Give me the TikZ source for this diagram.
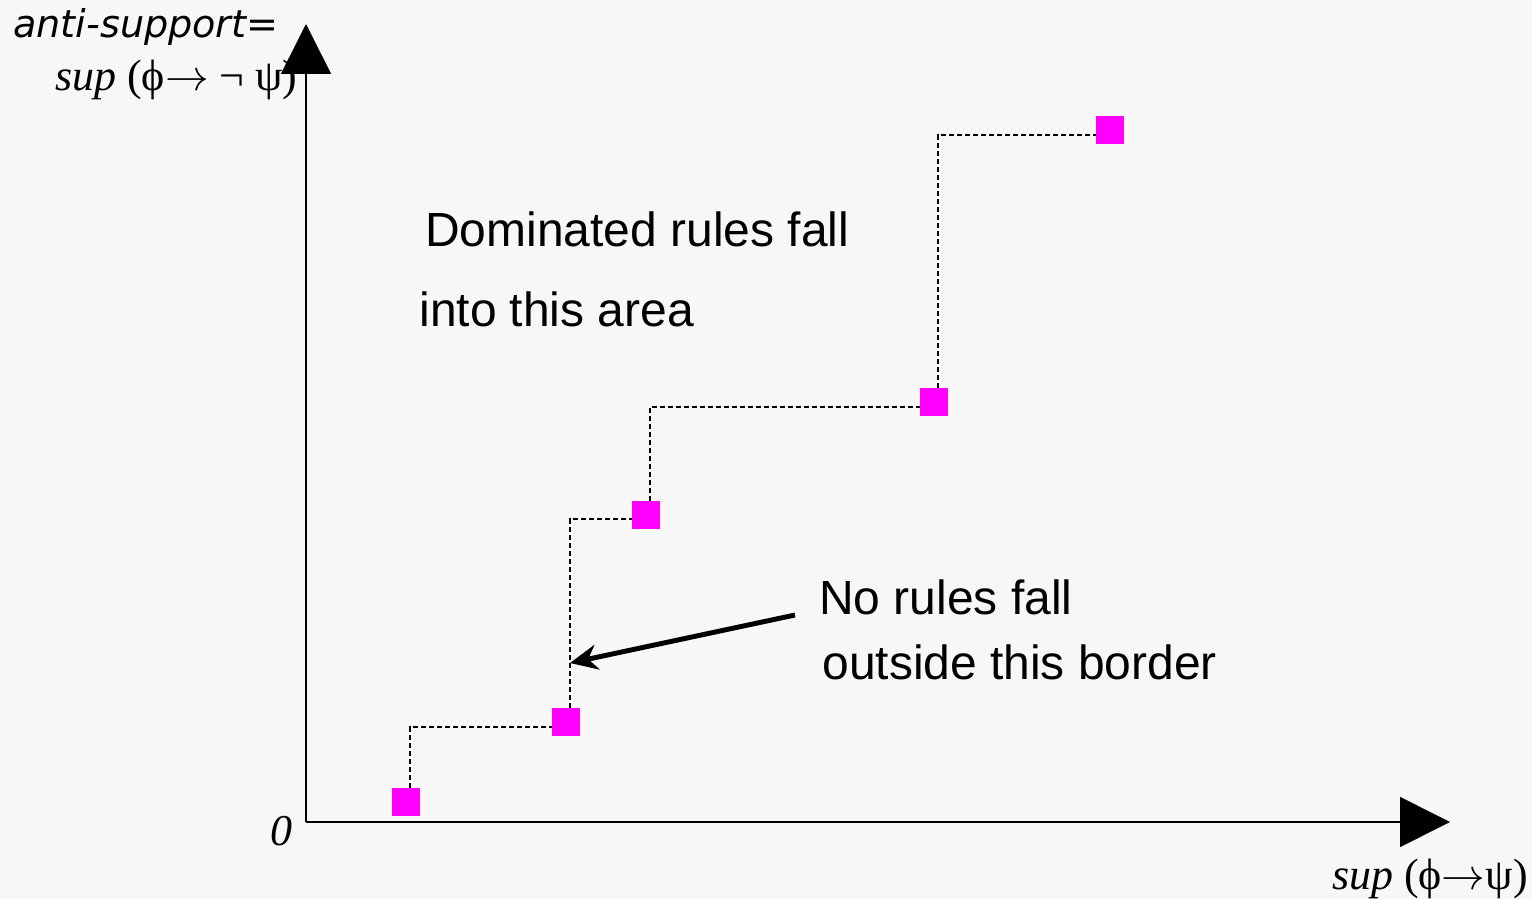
\documentclass[tikz,border=0pt]{standalone}
\usepackage{fontspec}
\setmainfont{Liberation Sans}
\newfontfamily\serifgr{Liberation Serif}
\newfontfamily\labelfont{DejaVu Sans}
\usetikzlibrary{arrows.meta, positioning}
\definecolor{rulepink}{RGB}{255,0,255}
\definecolor{paper}{RGB}{247,247,247}

\begin{document}
\begin{tikzpicture}[x=0.02cm, y=-0.02cm,
    rule/.style={rectangle, fill=rulepink, minimum size=0.56cm, inner sep=0pt},
    stair/.style={draw, dash pattern=on 0.1cm off 0.06cm, line width=1.1pt},
    axis/.style={draw, line width=0.9pt, -{Triangle[length=1cm, width=1cm]}},
    pointer/.style={draw, line width=2.8pt, -{Stealth[length=0.55cm, width=0.5cm]}},
    note/.style={anchor=base west, inner sep=0pt, font=\fontsize{27.3}{32}\selectfont},
    mathlbl/.style={anchor=base west, inner sep=0pt, font=\serifgr\fontsize{25}{30}\selectfont}]

    \useasboundingbox (0,0) rectangle (1532,899);
    \fill[paper] (0,0) rectangle (1532,899);

    \coordinate (origin) at (306,822);
    \coordinate (ytip) at (306,24);
    \coordinate (xtip) at (1450,822);

    \draw[axis] (origin) -- (ytip);
    \draw[axis] (origin) -- (xtip);

    \node[anchor=base west, inner sep=0pt, font=\labelfont\itshape\fontsize{21.7}{26}\selectfont] (ylbl) at (13,37) {anti-support=};
    \node[mathlbl] (ylbl2) at (55,90) {\textit{sup} (ϕ$\rightarrow$ ¬ ψ)};
    \node[mathlbl, anchor=base east] (xlbl) at (1528,889) {\textit{sup} (ϕ$\rightarrow$ψ)};
    \node[mathlbl, anchor=base east] (zero) at (293,845) {\textit{0}};

    \node[rule] (r1) at (406,802) {};
    \node[rule] (r2) at (566,722) {};
    \node[rule] (r3) at (646,515) {};
    \node[rule] (r4) at (934,402) {};
    \node[rule] (r5) at (1110,130) {};

    \draw[stair] ([xshift=0.08cm]r1.north) |- ([yshift=-0.1cm]r2.west);
    \draw[stair] ([xshift=0.08cm]r2.north) |- ([yshift=-0.08cm]r3.west);
    \draw[stair] ([xshift=0.08cm]r3.north) |- ([yshift=-0.1cm]r4.west);
    \draw[stair] ([xshift=0.08cm]r4.north) |- ([yshift=-0.1cm]r5.west);

    \node[note] (dom) at (425,246) {Dominated rules fall};
    \node[note] (dom2) at (419,326) {into this area};
    \node[note] (none) at (819,614) {No rules fall};
    \node[note] (none2) at (822,679) {outside this border};

    \coordinate (tail) at (795,615);
    \coordinate (tip) at (570,663);
    \draw[pointer] (tail) -- (tip);

\end{tikzpicture}
\end{document}
